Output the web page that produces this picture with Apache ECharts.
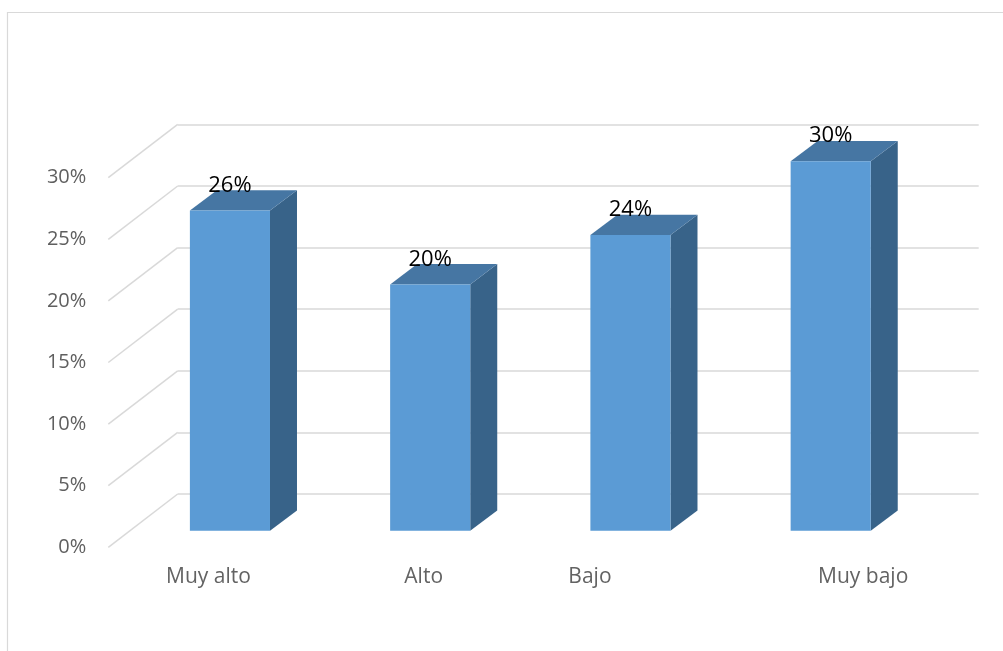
<!DOCTYPE html>
<html><head><meta charset="utf-8">
<script src="https://cdn.jsdelivr.net/npm/echarts@6.0.0/dist/echarts.min.js"></script>
<style>html,body{margin:0;padding:0;background:#fff}#c{width:1003px;height:651px}</style>
</head><body><div id="c"></div>
<script>
// ---- data ----
const categories = ['Muy alto', 'Alto', 'Bajo', 'Muy bajo'];
const values = [26, 20, 24, 30];          // percent
const yTicks = [0, 5, 10, 15, 20, 25, 30]; // percent tick values
const labelShift = [0, 15, -19, 54];      // category label horizontal nudge (px)

// ---- styles / 3D geometry ----
const DX = 69.4, DY = -53.3;        // floor depth offset (front -> back wall)
const BAR_FRONT = 0.31;             // bar front face depth fraction
const BAR_DX = 27, BAR_DY = -20.3;  // bar depth
const BAR_W = 0.4;                  // fraction of band
const GRID_COLOR = '#D9D9D9';
const FRONT = '#5B9BD5', TOP = '#4676A3', SIDE = '#386389';
const FONT = '"Open Sans", "Liberation Sans", sans-serif';

const gridFront = { left: 108.3, top: 177.7, width: 801, height: 369.6 };
const gridBack = { left: 108.3 + DX, top: 177.7 + DY, width: 801, height: 369.6 };

const chart = echarts.init(document.getElementById('c'), null, { renderer: 'canvas' });

const rich = {};
labelShift.forEach((s, i) => {
  rich['c' + i] = {
    fontSize: 21, fontFamily: FONT, color: '#636363',
    padding: s >= 0 ? [0, 0, 0, 2 * s] : [0, -2 * s, 0, 0]
  };
});

const option = {
  backgroundColor: '#fff',
  animation: false,
  graphic: [{
    type: 'rect', shape: { x: 7.5, y: 12.5, width: 1100, height: 800 },
    style: { fill: 'none', stroke: GRID_COLOR, lineWidth: 1.2 }, silent: true, z: 0
  }],
  grid: [
    Object.assign({ containLabel: false }, gridFront),
    Object.assign({ containLabel: false }, gridBack)
  ],
  xAxis: [
    {
      type: 'category', gridIndex: 0, data: categories,
      axisLine: { show: false }, axisTick: { show: false }, splitLine: { show: false },
      axisLabel: {
        margin: 19,
        formatter: (v, i) => '{c' + i + '|' + v + '}',
        rich: rich
      }
    },
    {
      type: 'category', gridIndex: 1, data: categories, show: false
    }
  ],
  yAxis: [
    {
      type: 'value', gridIndex: 0, min: 0, max: 30, interval: 5,
      axisLine: { show: false }, axisTick: { show: false }, splitLine: { show: false },
      axisLabel: { margin: 22, fontSize: 20, fontFamily: FONT, color: '#5f5f5f', formatter: v => v + '%' }
    },
    {
      type: 'value', gridIndex: 1, min: 0, max: 30, interval: 5,
      axisLine: { show: false }, axisTick: { show: false }, axisLabel: { show: false },
      splitLine: { show: true, lineStyle: { color: GRID_COLOR, width: 1.5 } }
    }
  ],
  series: [
    {
      // side-wall diagonal gridlines
      type: 'custom', xAxisIndex: 0, yAxisIndex: 0, clip: false, z: 1, silent: true,
      data: yTicks.map(t => [0, t]),
      encode: { x: 0, y: 1 },
      renderItem: (params, api) => {
        const x0 = params.coordSys.x;
        const y = api.coord([0, api.value(1)])[1];
        return {
          type: 'line',
          shape: { x1: x0, y1: y, x2: x0 + DX, y2: y + DY },
          style: { stroke: GRID_COLOR, lineWidth: 1.5 }
        };
      }
    },
    {
      // 3D bars
      type: 'custom', xAxisIndex: 0, yAxisIndex: 0, clip: false, z: 5,
      data: values.map((v, i) => [i, v]),
      encode: { x: 0, y: 1 },
      renderItem: (params, api) => {
        const v = api.value(1);
        const top = api.coord([api.value(0), v]);
        const base = api.coord([api.value(0), 0]);
        const band = api.size([1, 0])[0];
        const w = band * BAR_W;
        const fx = BAR_FRONT * DX, fy = BAR_FRONT * DY;
        const x0 = top[0] - w / 2 + fx, x1 = x0 + w;
        const yT = top[1] + fy, yB = base[1] + fy;
        return {
          type: 'group',
          children: [
            { type: 'polygon', shape: { points: [[x1, yT], [x1 + BAR_DX, yT + BAR_DY], [x1 + BAR_DX, yB + BAR_DY], [x1, yB]] },
              style: { fill: SIDE } },
            { type: 'polygon', shape: { points: [[x0, yT], [x1, yT], [x1 + BAR_DX, yT + BAR_DY], [x0 + BAR_DX, yT + BAR_DY]] },
              style: { fill: TOP } },
            { type: 'rect', shape: { x: x0, y: yT, width: w, height: yB - yT },
              style: { fill: FRONT } },
            { type: 'text', z2: 10,
              style: { text: v + '%', x: (x0 + x1) / 2, y: yT - 25, align: 'center', verticalAlign: 'middle',
                       fontSize: 22, fontFamily: FONT, fill: '#000' } }
          ]
        };
      }
    }
  ]
};
chart.setOption(option);
</script>
</body></html>
